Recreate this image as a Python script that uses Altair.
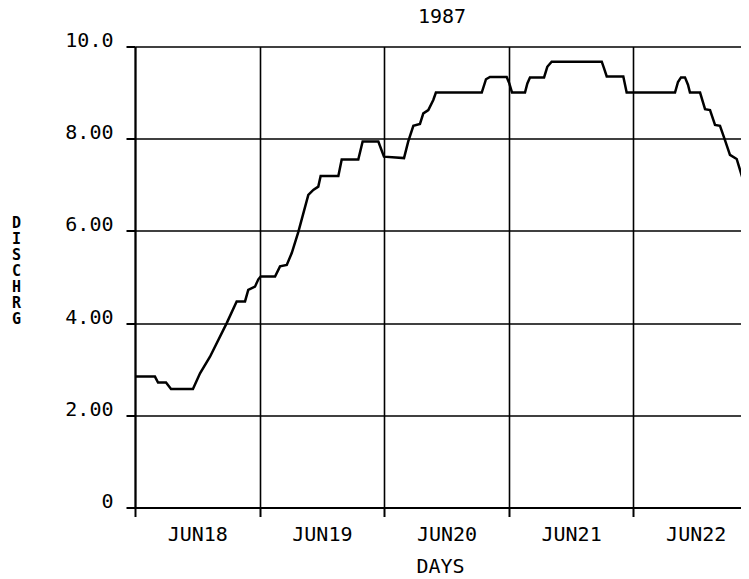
import altair as alt
import pandas as pd

# Time in days since JUN18 00:00, discharge values
days = [0.0, 0.16, 0.185, 0.249, 0.289, 0.465, 0.522, 0.602, 0.736, 0.816,
        0.883, 0.909, 0.963, 0.990, 1.009, 1.124, 1.164, 1.218, 1.258, 1.311,
        1.351, 1.391, 1.431, 1.471, 1.490, 1.632, 1.659, 1.792, 1.827, 1.953,
        1.998, 2.159, 2.193, 2.234, 2.287, 2.314, 2.354, 2.394, 2.415, 2.783,
        2.817, 2.849, 2.983, 3.004, 3.026, 3.130, 3.149, 3.170, 3.283, 3.309,
        3.344, 3.746, 3.764, 3.786, 3.919, 3.946, 4.334, 4.358, 4.382, 4.414,
        4.438, 4.454, 4.535, 4.575, 4.615, 4.655, 4.695, 4.735, 4.775, 4.829,
        4.856, 4.896, 4.928, 4.952]
dischrg = [2.84, 2.84, 2.71, 2.71, 2.57, 2.57, 2.91, 3.27, 4.00, 4.47,
           4.47, 4.72, 4.79, 4.95, 5.01, 5.01, 5.23, 5.26, 5.52, 5.98,
           6.38, 6.78, 6.89, 6.96, 7.19, 7.19, 7.55, 7.55, 7.94, 7.94,
           7.61, 7.58, 7.94, 8.28, 8.32, 8.55, 8.62, 8.84, 9.00, 9.00,
           9.29, 9.34, 9.34, 9.20, 9.00, 9.00, 9.20, 9.33, 9.33, 9.56,
           9.67, 9.67, 9.53, 9.35, 9.35, 9.00, 9.00, 9.23, 9.33, 9.33,
           9.17, 9.00, 9.00, 8.64, 8.62, 8.30, 8.28, 7.97, 7.65, 7.56,
           7.32, 6.96, 6.85, 6.78]

day_labels = ["JUN18", "JUN19", "JUN20", "JUN21", "JUN22"]
x_ticks = [0, 1, 2, 3, 4]
y_ticks = [0, 2, 4, 6, 8, 10]
chart_title = "1987"
x_title = "DAYS"
y_title = "DISCHRG"

df = pd.DataFrame({"day": days, "q": dischrg})

FONT = "DejaVu Sans Mono"

label_expr = "[" + ",".join("'%s'" % s for s in day_labels) + "][round(datum.value)]"

line = alt.Chart(df).mark_line(color="black", strokeWidth=2.5, clip=True).encode(
    x=alt.X("day:Q",
            scale=alt.Scale(domain=[0, 4.8636], nice=False, zero=False),
            axis=alt.Axis(values=x_ticks, grid=True, gridColor="black", gridWidth=1.6,
                          gridOpacity=1, domainColor="black", domainWidth=2,
                          tickColor="black", tickSize=9, tickWidth=2,
                          labelExpr=label_expr, labelOffset=62.3, labelFlush=False,
                          labelOverlap=False, labelBound=False, labelAlign="center",
                          labelBaseline="alphabetic", labelPadding=23.5,
                          labelFont=FONT, labelFontSize=20, labelColor="black",
                          title=x_title, titleFont=FONT, titleFontSize=20,
                          titleFontWeight="normal", titleColor="black",
                          titleBaseline="alphabetic", titleAnchor="middle",
                          titleY=64.5, titleX=305)),
    y=alt.Y("q:Q",
            scale=alt.Scale(domain=[0, 10], nice=False, zero=True),
            axis=alt.Axis(values=y_ticks, grid=True, gridColor="black", gridWidth=1.6,
                          gridOpacity=1, domainColor="black", domainWidth=2,
                          tickColor="black", tickSize=9, tickWidth=2,
                          labelExpr="datum.value == 0 ? '0' : (datum.value == 10 ? '10.0' : format(datum.value, '.2f'))",
                          labelFlush=False, labelOverlap=False, labelBound=False,
                          labelAlign="right", labelBaseline="alphabetic", labelPadding=13,
                          labelFont=FONT, labelFontSize=20, labelColor="black",
                          title=list(y_title), titleFont=FONT,
                          titleFontSize=15, titleFontWeight="bold", titleColor="black",
                          titleAngle=0, titleAlign="center", titleBaseline="alphabetic",
                          titleLineHeight=16, titleX=-119, titleY=180.5)),
)

title_text = alt.Chart(pd.DataFrame({"t": [chart_title]})).mark_text(
    font=FONT, fontSize=20, color="black", align="center", baseline="alphabetic"
).encode(
    text="t:N",
    x=alt.value(307),
    y=alt.value(-23.5),
)

chart = alt.layer(line, title_text).properties(
    width=606,
    height=461,
    autosize="none",
    padding={"left": 127, "top": 38.5, "right": 0, "bottom": 70},
).configure_view(stroke=None)

chart.save("out.html", embed_options={"renderer": "svg", "actions": False})
